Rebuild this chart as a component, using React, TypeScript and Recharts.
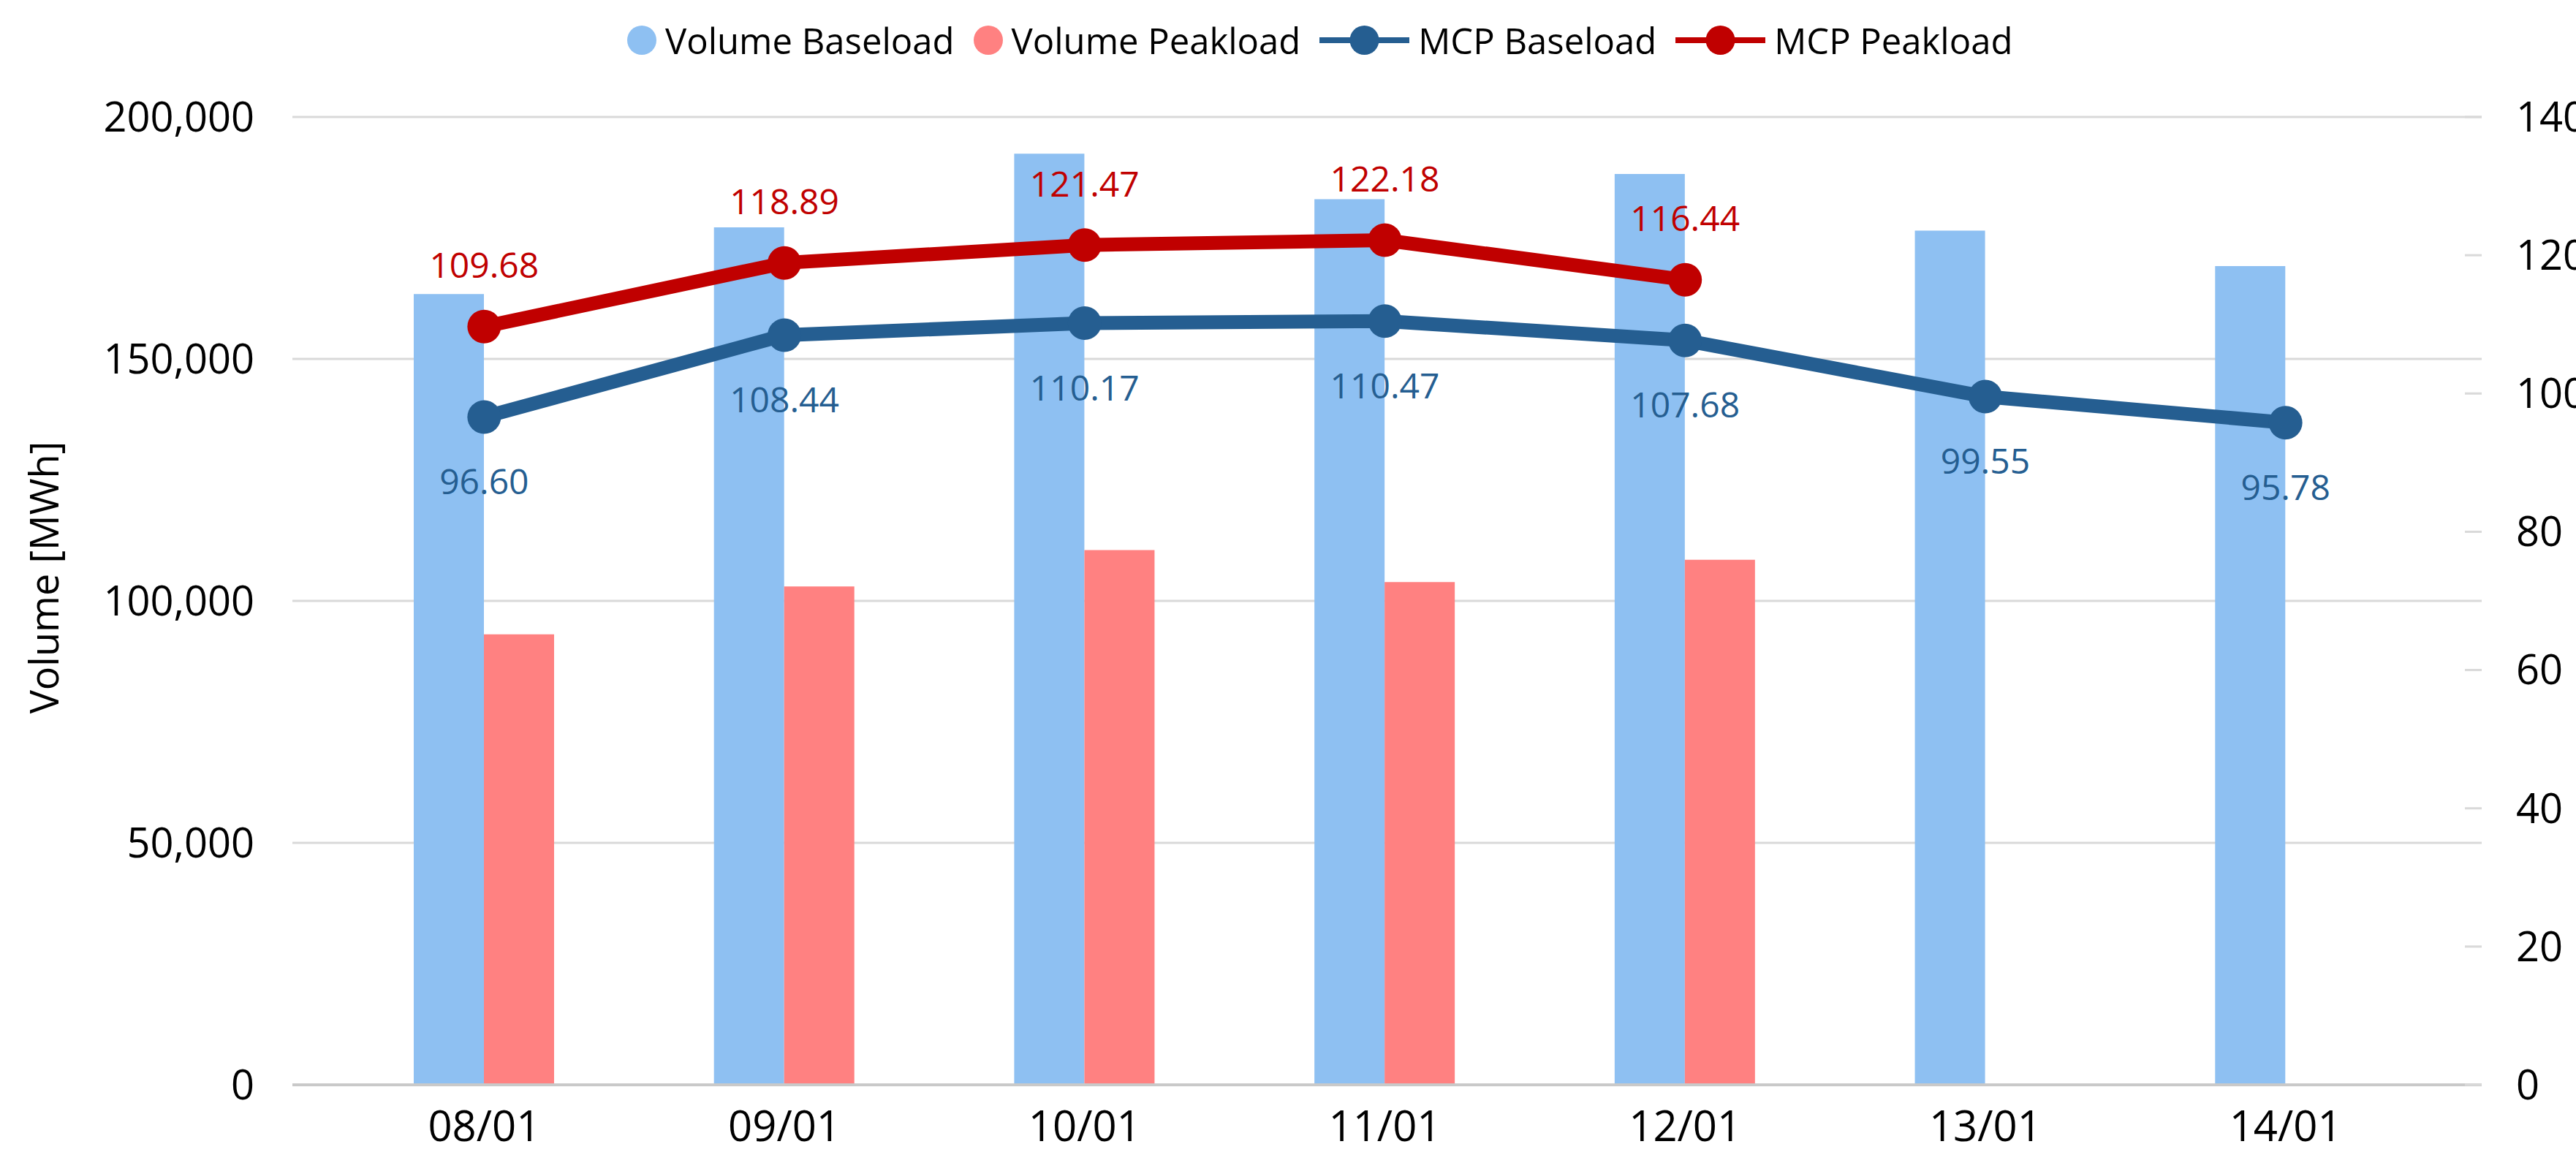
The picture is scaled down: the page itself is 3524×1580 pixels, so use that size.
import React from 'react';
import {
  ComposedChart,
  Bar,
  Line,
  XAxis,
  YAxis,
  CartesianGrid,
  Legend,
  LabelList,
} from 'recharts';

const dates = ['08/01', '09/01', '10/01', '11/01', '12/01', '13/01', '14/01'];
const volumeBaseload = [163400, 177200, 192400, 183000, 188200, 176500, 169200];
const volumePeakload = [93100, 103000, 110500, 103900, 108500, null, null];
const mcpBaseload = [96.6, 108.44, 110.17, 110.47, 107.68, 99.55, 95.78];
const mcpPeakload = [109.68, 118.89, 121.47, 122.18, 116.44, null, null];
const volumeTicks = [0, 50000, 100000, 150000, 200000];
const priceTicks = [0, 20, 40, 60, 80, 100, 120, 140];
const seriesOrder = ['Volume Baseload', 'Volume Peakload', 'MCP Baseload', 'MCP Peakload'];

const data = dates.map((date, i) => ({
  date,
  volBase: volumeBaseload[i],
  volPeak: volumePeakload[i],
  mcpBase: mcpBaseload[i],
  mcpPeak: mcpPeakload[i],
}));

const BLUE_BAR = '#8EC0F2';
const PINK_BAR = '#FF8181';
const BLUE_LINE = '#255E91';
const RED_LINE = '#C00000';
const GRID = '#D9D9D9';
const FONT = '"Open Sans", "Noto Sans", sans-serif';

const makeLabel = (color: string, dy: number) => (props: any) => {
  const { value, viewBox } = props;
  if (value === null || value === undefined) return null;
  const x = props.x ?? viewBox?.x;
  const y = props.y ?? viewBox?.y;
  if (x === undefined || y === undefined) return null;
  return (
    <text
      x={x}
      y={y + dy}
      fill={color}
      fontSize={48}
      fontFamily={FONT}
      textAnchor="middle"
      dominantBaseline="central"
    >
      {Number(value).toFixed(2)}
    </text>
  );
};

const renderLegend = (props: any) => {
  const payload = [...(props.payload || [])].sort(
    (a: any, b: any) => seriesOrder.indexOf(a.value) - seriesOrder.indexOf(b.value)
  );
  return (
    <div
      style={{
        display: 'flex',
        alignItems: 'center',
        paddingLeft: 858,
        height: 60,
        fontFamily: FONT,
        fontSize: 49,
        lineHeight: 1,
        color: '#000',
      }}
    >
      {payload.map((entry: any, idx: number) => (
        <div key={entry.value} style={{ display: 'flex', alignItems: 'center', marginLeft: idx === 0 ? 0 : 26 }}>
          {entry.type === 'circle' ? (
            <svg width={40} height={40}>
              <circle cx={20} cy={20} r={20} fill={entry.color} />
            </svg>
          ) : (
            <svg width={123} height={40}>
              <line x1={0} y1={20} x2={123} y2={20} stroke={entry.color} strokeWidth={8} />
              <circle cx={61.5} cy={20} r={20} fill={entry.color} />
            </svg>
          )}
          <span style={{ marginLeft: 12 }}>{entry.value}</span>
        </div>
      ))}
    </div>
  );
};

const AxisTitle = (props: any) => {
  const vb = props.viewBox || { x: 0, y: 160, width: 400, height: 1324 };
  const x = vb.x + 80;
  const y = vb.y + vb.height / 2 - 32;
  return (
    <text
      x={x}
      y={y}
      transform={`rotate(-90, ${x}, ${y})`}
      textAnchor="middle"
      fontSize={54}
      fontFamily={FONT}
      fill="#000"
    >
      Volume [MWh]
    </text>
  );
};

export default function App() {
  return (
    <div style={{ position: 'absolute', left: 0, top: 0, fontFamily: FONT, background: '#fff' }}>
      <ComposedChart
        width={3524}
        height={1580}
        data={data}
        margin={{ top: 160, right: 0, bottom: 0, left: 0 }}
        barGap={0}
      >
        <CartesianGrid yAxisId="left" vertical={false} stroke={GRID} strokeWidth={3} />
        <XAxis
          dataKey="date"
          height={96}
          padding={{ left: 57, right: 63 }}
          axisLine={{ stroke: '#C9C9C9', strokeWidth: 4 }}
          tickLine={false}
          tickSize={0}
          tickMargin={36}
          tick={{ fontSize: 58, fill: '#000', fontFamily: FONT }}
        />
        <YAxis
          yAxisId="left"
          width={400}
          domain={[0, 200000]}
          ticks={volumeTicks}
          axisLine={false}
          tickLine={false}
          tickSize={0}
          tickMargin={52}
          tick={{ fontSize: 56, fill: '#000', fontFamily: FONT }}
          tickFormatter={(v: number) => v.toLocaleString('en-US')}
          label={<AxisTitle />}
        />
        <YAxis
          yAxisId="right"
          orientation="right"
          width={129}
          domain={[0, 140]}
          ticks={priceTicks}
          axisLine={false}
          tickLine={{ stroke: GRID, strokeWidth: 3 }}
          tickSize={-23}
          tickMargin={70}
          tick={{ fontSize: 56, fill: '#000', fontFamily: FONT }}
        />
        <Legend
          layout="horizontal"
          verticalAlign="middle"
          align="center"
          wrapperStyle={{ top: 25, left: 0, width: 3524 }}
          content={renderLegend}
        />
        <Bar
          yAxisId="left"
          dataKey="volBase"
          name="Volume Baseload"
          fill={BLUE_BAR}
          barSize={96}
          legendType="circle"
          isAnimationActive={false}
        />
        <Bar
          yAxisId="left"
          dataKey="volPeak"
          name="Volume Peakload"
          fill={PINK_BAR}
          barSize={96}
          legendType="circle"
          isAnimationActive={false}
        />
        <Line
          yAxisId="right"
          dataKey="mcpBase"
          name="MCP Baseload"
          type="linear"
          stroke={BLUE_LINE}
          strokeWidth={19}
          dot={{ r: 23, fill: BLUE_LINE, stroke: BLUE_LINE, strokeWidth: 0 }}
          activeDot={false}
          legendType="line"
          isAnimationActive={false}
        >
          <LabelList dataKey="mcpBase" content={makeLabel(BLUE_LINE, 87)} />
        </Line>
        <Line
          yAxisId="right"
          dataKey="mcpPeak"
          name="MCP Peakload"
          type="linear"
          stroke={RED_LINE}
          strokeWidth={19}
          dot={{ r: 23, fill: RED_LINE, stroke: RED_LINE, strokeWidth: 0 }}
          activeDot={false}
          legendType="line"
          isAnimationActive={false}
        >
          <LabelList dataKey="mcpPeak" content={makeLabel(RED_LINE, -85)} />
        </Line>
      </ComposedChart>
    </div>
  );
}
